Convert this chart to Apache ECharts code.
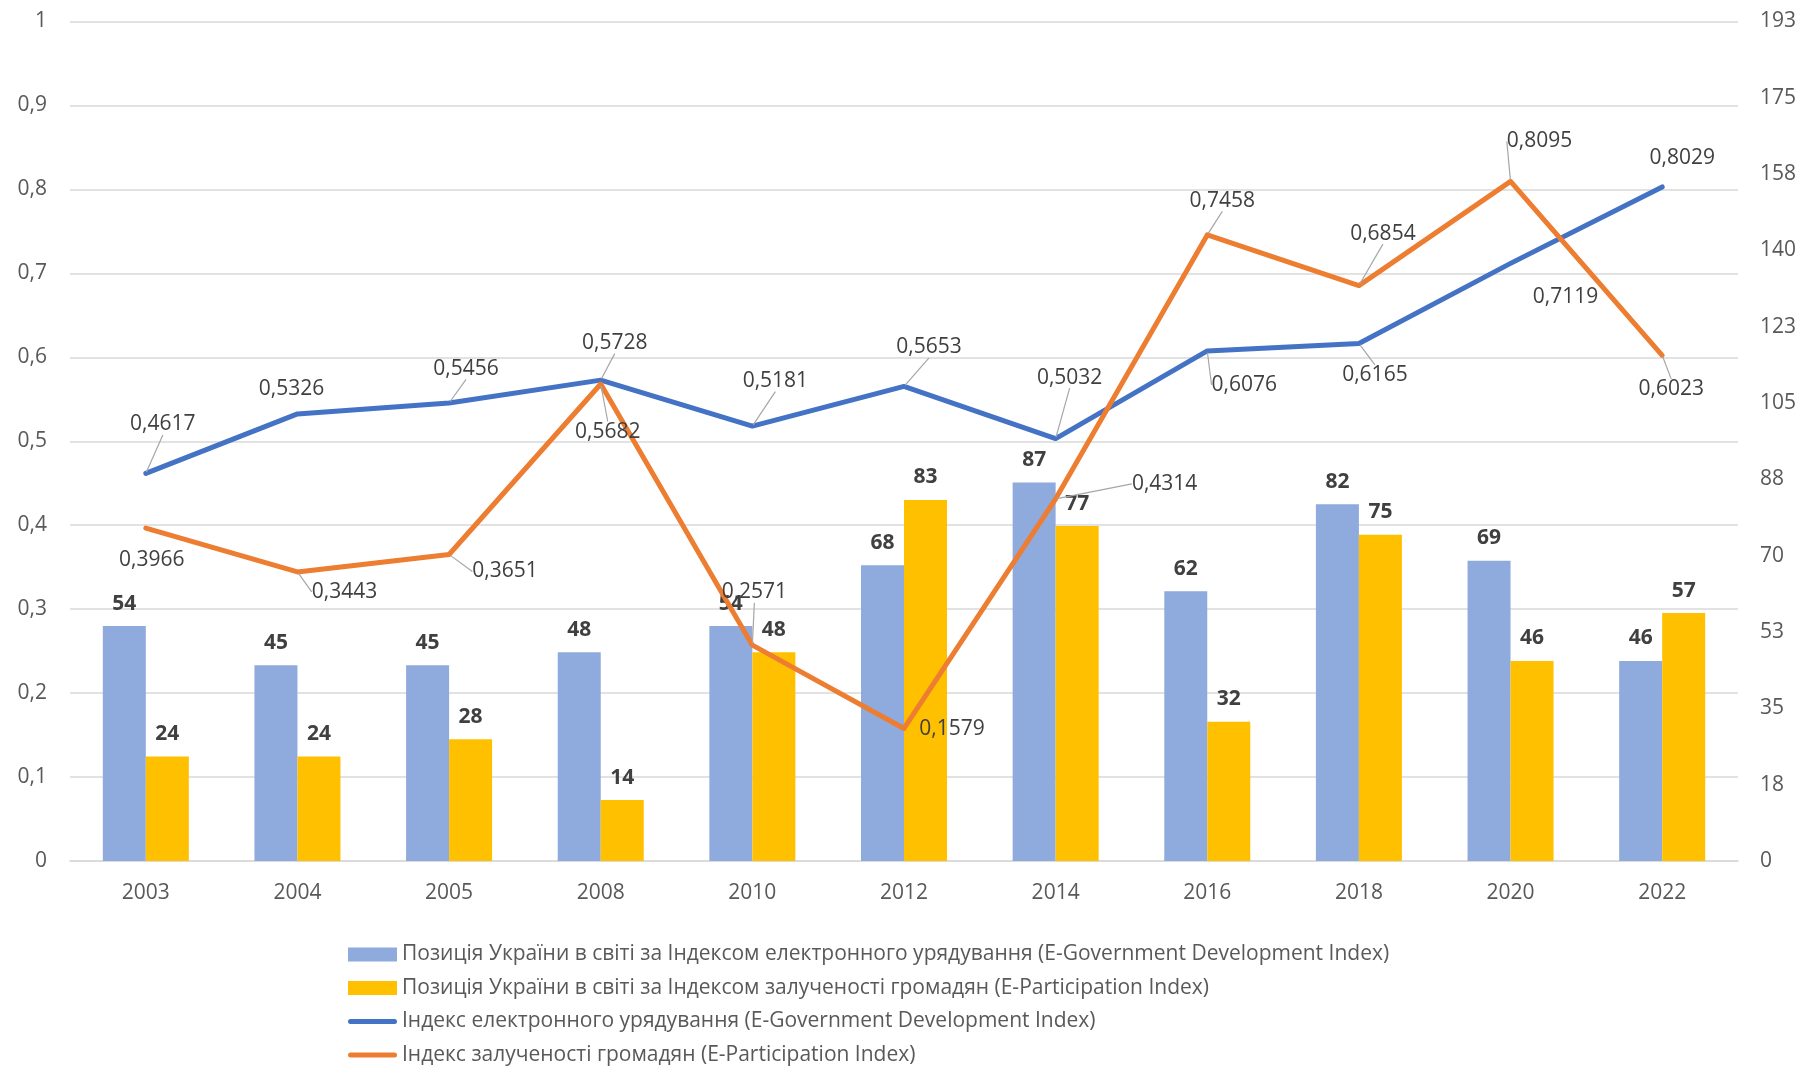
<!DOCTYPE html>
<html>
<head>
<meta charset="utf-8">
<title>Індекси електронного урядування України</title>
<script src="https://cdn.jsdelivr.net/npm/echarts@6/dist/echarts.min.js"></script>
<style>
  html, body { margin: 0; padding: 0; background: #ffffff; }
  #chart { width: 1801px; height: 1066px; }
</style>
</head>
<body>
<div id="chart"></div>
<script>
// Survey years
const years = ['2003', '2004', '2005', '2008', '2010', '2012', '2014', '2016', '2018', '2020', '2022'];

// Ukraine's world rank (right axis)
const egdiRank = [54, 45, 45, 48, 54, 68, 87, 62, 82, 69, 46];
const epartRank = [24, 24, 28, 14, 48, 83, 77, 32, 75, 46, 57];

// Index values (left axis)
const egdiIndex = [0.4617, 0.5326, 0.5456, 0.5728, 0.5181, 0.5653, 0.5032, 0.6076, 0.6165, 0.7119, 0.8029];
const epartIndex = [0.3966, 0.3443, 0.3651, 0.5682, 0.2571, 0.1579, 0.4314, 0.7458, 0.6854, 0.8095, 0.6023];

// Series names
const nameEgdiRank = 'Позиція України в світі за Індексом електронного урядування (E-Government Development Index)';
const nameEpartRank = 'Позиція України в світі за Індексом залученості громадян (E-Participation Index)';
const nameEgdi = 'Індекс електронного урядування (E-Government Development Index)';
const nameEpart = 'Індекс залученості громадян (E-Participation Index)';

// Right axis scale
const rankAxisMax = 193;
const rankAxisSteps = 11;

// Label placement (pixel shifts from each point) and whether a leader line is drawn
const egdiLabelShift = [[17, -49], [-6, -25], [17, -34], [14, -37], [23, -45], [25, -39], [14, -61], [37, 34], [16, 32], [55, 34], [20, -29]];
const egdiLeader = [true, false, true, true, true, true, true, true, true, false, false];
const epartLabelShift = [[6, 32], [47, 20], [56, 17], [7, 48], [2, -53], [48, 1], [109, -15], [15, -34], [24, -52], [29, -40], [9, 34]];
const epartLeader = [false, true, true, true, true, false, true, true, true, true, true];

const FONT = '"Open Sans", "Noto Sans", sans-serif';
const FS = 21;
const fmtIndex = v => v.toFixed(4).replace('.', ',');
const fmtAxis = v => String(Math.round(v * 10) / 10).replace('.', ',');

const chart = echarts.init(document.getElementById('chart'), null, { renderer: 'canvas' });

const lineIcon = 'path://M2.5,0 L46.5,0 A2.5,2.5 0 0 1 46.5,5 L2.5,5 A2.5,2.5 0 0 1 2.5,0 Z';

function lineSeries(name, values, color, shifts, leaders) {
  return {
    name: name,
    type: 'line',
    yAxisIndex: 0,
    data: values.map((v, i) => ({ value: v, labelLine: { show: leaders[i] } })),
    symbol: 'circle',
    symbolSize: 3,
    showSymbol: true,
    itemStyle: { color: color },
    lineStyle: { color: color, width: 5, cap: 'round', join: 'round' },
    z: 5,
    label: {
      show: true,
      position: 'inside',
      align: 'center',
      verticalAlign: 'middle',
      formatter: p => fmtIndex(p.value),
      color: '#404040',
      fontFamily: FONT,
      fontSize: FS
    },
    labelLine: {
      show: true,
      lineStyle: { color: '#A6A6A6', width: 1.2 }
    },
    labelLayout: params => {
      const s = shifts[params.dataIndex];
      return { dx: s[0], dy: s[1] };
    },
    emphasis: { disabled: true }
  };
}

function barSeries(name, values, color) {
  return {
    name: name,
    type: 'bar',
    yAxisIndex: 1,
    data: values,
    barWidth: 43,
    barGap: '0%',
    itemStyle: { color: color },
    label: {
      show: true,
      position: 'top',
      distance: 12,
      color: '#404040',
      fontFamily: FONT,
      fontSize: FS,
      fontWeight: 'bold'
    },
    emphasis: { disabled: true }
  };
}

const option = {
  backgroundColor: '#ffffff',
  animation: false,
  textStyle: { fontFamily: FONT },
  grid: { left: 70, right: 63, top: 21.5, bottom: 205, containLabel: false },
  legend: {
    orient: 'vertical',
    left: 348,
    top: 944,
    padding: 0,
    itemWidth: 49,
    itemHeight: 14,
    itemGap: 12.5,
    symbolKeepAspect: true,
    textStyle: { color: '#595959', fontSize: FS, fontFamily: FONT },
    data: [
      { name: nameEgdiRank, icon: 'rect' },
      { name: nameEpartRank, icon: 'rect' },
      { name: nameEgdi, icon: lineIcon },
      { name: nameEpart, icon: lineIcon }
    ]
  },
  xAxis: {
    type: 'category',
    data: years,
    axisLine: { show: true, lineStyle: { color: '#D9D9D9', width: 1.5 } },
    axisTick: { show: false },
    axisLabel: { color: '#595959', fontSize: FS, fontFamily: FONT, margin: 22 }
  },
  yAxis: [
    {
      type: 'value',
      min: 0,
      max: 1,
      interval: 0.1,
      axisLine: { show: false },
      axisTick: { show: false },
      splitLine: { show: true, lineStyle: { color: '#D9D9D9', width: 1.5 } },
      axisLabel: { color: '#595959', fontSize: FS, fontFamily: FONT, margin: 23, formatter: fmtAxis }
    },
    {
      type: 'value',
      min: 0,
      max: rankAxisMax,
      interval: rankAxisMax / rankAxisSteps,
      axisLine: { show: false },
      axisTick: { show: false },
      splitLine: { show: false },
      axisLabel: { color: '#595959', fontSize: FS, fontFamily: FONT, margin: 22, formatter: v => String(Math.round(v)) }
    }
  ],
  series: [
    barSeries(nameEgdiRank, egdiRank, '#8FAADC'),
    barSeries(nameEpartRank, epartRank, '#FFC000'),
    lineSeries(nameEgdi, egdiIndex, '#4472C4', egdiLabelShift, egdiLeader),
    lineSeries(nameEpart, epartIndex, '#ED7D31', epartLabelShift, epartLeader)
  ]
};

chart.setOption(option);
</script>
</body>
</html>
